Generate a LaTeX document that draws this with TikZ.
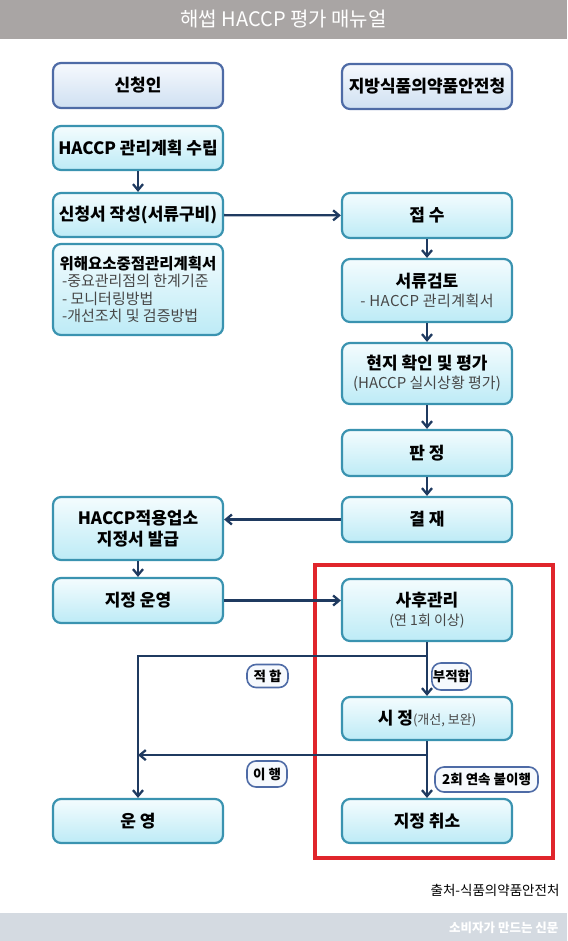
\documentclass[tikz,border=0pt]{standalone}
\usepackage{fontspec}
\setmainfont{Noto Sans CJK KR}
\usetikzlibrary{arrows.meta,positioning,calc}
\usepackage{xcolor}

\definecolor{titlegray}{HTML}{A9A5A4}
\definecolor{footgray}{HTML}{D4DAE1}
\definecolor{boxline}{HTML}{3A93B0}
\definecolor{boxtop}{HTML}{F4FCFE}
\definecolor{boxbot}{HTML}{BDEBF6}
\definecolor{headline}{HTML}{4E6BA6}
\definecolor{headtop}{HTML}{F6F9FD}
\definecolor{headbot}{HTML}{CFE0F2}
\definecolor{flow}{HTML}{1F3A60}
\definecolor{markred}{HTML}{E0252B}
\definecolor{subtext}{HTML}{474747}

\newcommand{\fsz}[2]{\fontsize{#1}{#2}\selectfont}
\newcommand{\subln}[1]{{\mdseries\fsz{15}{18}\addfontfeature{LetterSpace=3}\color{subtext}#1}}

\begin{document}
\begin{tikzpicture}[
  x=1pt, y=-1pt,
  >={Straight Barb[length=6pt,width=10pt]},
  box/.style={draw=boxline, line width=2.2pt, rounded corners=8pt,
              top color=boxtop, bottom color=boxbot, minimum width=170pt,
              minimum height=45pt, align=center, inner sep=2pt,
              font=\bfseries\fsz{17}{21}},
  headbox/.style={box, draw=headline, top color=headtop, bottom color=headbot},
  tag/.style={draw=headline, line width=1.6pt, rounded corners=9pt,
              fill=headtop, font=\bfseries\fsz{13.5}{15}, inner sep=1pt,
              minimum height=25pt},
  link/.style={->, draw=flow, line width=2.3pt}
]
  \useasboundingbox (0,0) rectangle (567,941);
  %% Title and footer bars
  \node[fill=titlegray, minimum width=567pt, minimum height=39pt, inner sep=0pt,
        text=white, font=\fsz{20}{22}] (title) at (283.5,19.5) {해썹 HACCP 평가 매뉴얼};
  \node[fill=footgray, minimum width=567pt, minimum height=29pt, inner sep=0pt] (footbar) at (283.5,927.5) {};
  \node[anchor=east, text=white, font=\bfseries\fsz{12.5}{14}] (paper) at (562,927.5) {소비자가 만드는 신문};
  \node[anchor=east, font=\fsz{13.5}{15}] (source) at (563,890) {출처-식품의약품안전처};

  %% Applicant column
  \node[headbox] (apply) at (138,85.5) {신청인};
  \node[box, minimum height=44pt] (plan) at (138,148) {HACCP 관리계획 수립};
  \node[box, minimum height=44pt] (form) at (138,215) {신청서 작성(서류구비)};
  \node[box, minimum height=91pt, align=left, font=\fsz{15}{17.5}, inner sep=0pt] (docs) at (138,289.5)
    {{\bfseries\fsz{15.5}{19}위해요소중점관리계획서}\\
     {\mdseries\color{subtext}\,-중요관리점의 한계기준}\\
     {\mdseries\color{subtext}\,- 모니터링방법}\\
     {\mdseries\color{subtext}\,-개선조치 및 검증방법}};
  \node[box, minimum height=63pt] (cert) at (138,528.5) {HACCP적용업소\\지정서 발급};
  \node[box] (oper) at (138,600.5) {지정 운영};
  \node[box, minimum height=44pt] (run) at (138,821) {운 영};

  %% Agency column
  \node[headbox] (kfda) at (427,86.5) {지방식품의약품안전청};
  \node[box] (recv) at (427,215.5) {접 수};
  \node[box, minimum height=63pt] (review) at (427,290.5)
    {서류검토\\[-2pt]\subln{- HACCP 관리계획서}};
  \node[box, minimum height=61pt] (visit) at (427,373.5)
    {현지 확인 및 평가\\[-2pt]{\mdseries\fsz{15}{18}\color{subtext}(HACCP 실시상황 평가)}};
  \node[box, minimum height=46pt] (judge) at (427,453) {판 정};
  \node[box] (sign) at (427,519.5) {결 재};
  \node[box, minimum height=62pt] (after) at (427,610)
    {사후관리\\[-2pt]{\mdseries\fsz{14}{17}\color{subtext}(연 1회 이상)}};
  \node[box, minimum height=43pt] (fix) at (427,718.5)
    {시 정{\mdseries\fsz{13}{14}\color{subtext}(개선, 보완)}};
  \node[box, minimum height=44pt] (cancel) at (427,821) {지정 취소};

  %% Follow-up area
  \draw[markred, line width=4pt] (315,565) rectangle (553,858);

  %% Flow
  \draw[link] (plan) -- (form);
  \draw[link] (form) -- (recv);
  \draw[link] (recv) -- (review);
  \draw[link] (review) -- (visit);
  \draw[link] (visit) -- (judge);
  \draw[link] (judge) -- (sign);
  \draw[link] (sign.west) -- (sign.west -| cert.east);
  \draw[link] (cert) -- (oper);
  \draw[link] (oper.east) -- (oper.east -| after.west);
  \draw[link] (after) -- (fix);
  \draw[link] (fix) -- (cancel);
  \coordinate (okturn) at ($(after.south)+(0,14)$);
  \coordinate (doneturn) at ($(fix.south)+(0,14)$);
  \draw[link] (okturn) -| (run);
  \draw[link] (doneturn) -- (doneturn -| run);

  %% Decision tags
  \node[tag, minimum width=41pt, minimum height=23pt] (ok) at (267.5,676) {적 합};
  \node[tag, minimum width=32pt, minimum height=27pt] (ng) at (451.5,676.5) {부적합};
  \node[tag, minimum width=40pt, minimum height=26pt] (done) at (267,774) {이 행};
  \node[tag, minimum width=103pt] (twice) at (486.5,779.5) {2회 연속 불이행};
\end{tikzpicture}
\end{document}
